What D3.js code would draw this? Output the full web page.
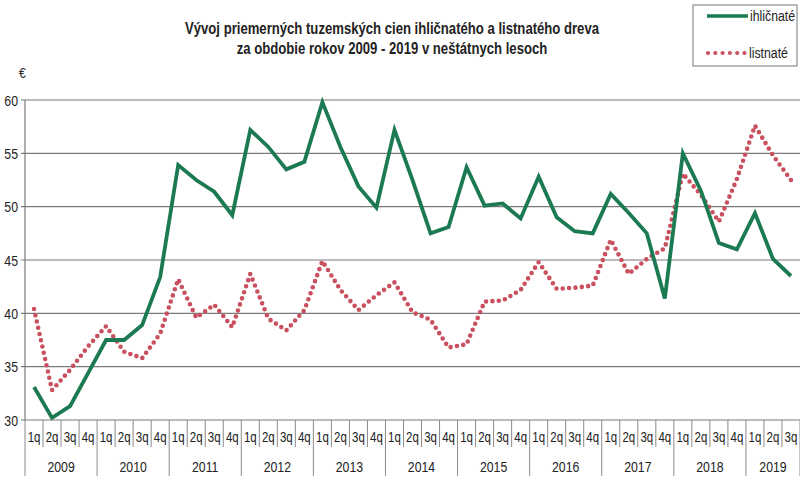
<!DOCTYPE html>
<html>
<head>
<meta charset="utf-8">
<script src="https://cdn.jsdelivr.net/npm/d3@7"></script>
<style>
  body { margin: 0; background: #fff; }
  text { font-family: "Liberation Sans", Arial, sans-serif; fill: #222; }
</style>
</head>
<body>
<svg id="chart" width="800" height="488"></svg>
<script>
const years = ['2009', '2010', '2011', '2012', '2013', '2014', '2015', '2016', '2017', '2018', '2019'];
const quarterLabels = ['1q', '2q', '3q', '4q'];
const yTicks = [30, 35, 40, 45, 50, 55, 60];

// ihličnaté (ihlicnate), 2009 1q .. 2019 3q
const ihlicnate = [33.1, 30.2, 31.3, 34.4, 37.5, 37.5, 38.9, 43.4,
  53.9, 52.5, 51.4, 49.2, 57.2, 55.6, 53.5, 54.2,
  59.8, 55.6, 51.9, 49.9, 57.2, 52.5, 47.5, 48.1,
  53.7, 50.1, 50.3, 48.9, 52.8, 49.0, 47.7, 47.5,
  51.2, 49.4, 47.5, 41.4, 55.0, 51.5, 46.6, 46.0,
  49.4, 45.1, 43.5];
// listnaté
const listnate = [40.4, 32.8, 34.7, 36.9, 38.8, 36.4, 35.8, 38.1,
  43.2, 39.6, 40.8, 38.7, 43.7, 39.5, 38.4, 40.3,
  44.9, 42.2, 40.3, 41.7, 42.9, 40.1, 39.4, 36.8,
  37.1, 41.1, 41.2, 42.2, 44.8, 42.3, 42.4, 42.6,
  46.9, 43.7, 45.1, 46.1, 53.1, 51.1, 48.6, 52.6,
  57.6, 54.8, 52.5];

const quarters = ihlicnate.map((d, i) => years[Math.floor(i / 4)] + '-' + quarterLabels[i % 4]);

const svg = d3.select('#chart');
const mLeft = 25, mRight = 800, mTop = 100, mBottom = 420;
const narrow = 0.82; // the original uses a condensed font

const x = d3.scaleBand().domain(quarters).range([mLeft, mRight]);
const y = d3.scaleLinear().domain([30, 60]).range([mBottom, mTop]);

// place a horizontally condensed text
function label(sel, px, py, size) {
  return sel.attr('transform', (d, i) => `translate(${typeof px === 'function' ? px(d, i) : px},${typeof py === 'function' ? py(d, i) : py}) scale(${narrow},1)`)
    .style('font-size', size + 'px');
}

// title
label(svg.append('text').attr('text-anchor', 'middle').style('font-weight', 'bold'), 392, 34, 16)
  .text('Vývoj priemerných tuzemských cien ihličnatého a listnatého dreva');
label(svg.append('text').attr('text-anchor', 'middle').style('font-weight', 'bold'), 392, 54, 16)
  .text('za obdobie rokov 2009 - 2019 v neštátnych lesoch');

// grid
svg.append('g').selectAll('line').data(yTicks).join('line')
  .attr('x1', mLeft - 4).attr('x2', mRight)
  .attr('y1', d => y(d)).attr('y2', d => y(d))
  .attr('stroke', '#7a7a7a').attr('stroke-width', 1.2);

svg.append('line').attr('x1', mLeft).attr('x2', mLeft).attr('y1', mTop).attr('y2', mBottom)
  .attr('stroke', '#7a7a7a').attr('stroke-width', 1.2);

label(svg.append('g').selectAll('text').data(yTicks).join('text').attr('text-anchor', 'end'),
  18, d => y(d) + 5.5, 15).text(d => d);

label(svg.append('text'), 19, 78, 15).text('€');

// x axis: quarter ticks and year separators
const qTicks = quarters.map(q => x(q)).concat([mRight]);
svg.append('g').selectAll('line').data(qTicks).join('line')
  .attr('x1', d => d).attr('x2', d => d)
  .attr('y1', mBottom).attr('y2', (d, i) => i % 4 === 0 || i === quarters.length ? 476 : 447)
  .attr('stroke', '#8a8a8a').attr('stroke-width', 1);

label(svg.append('g').selectAll('text').data(quarters).join('text').attr('text-anchor', 'middle'),
  d => x(d) + x.bandwidth() / 2, 442, 14).text(d => d.split('-')[1]);

label(svg.append('g').selectAll('text').data(years).join('text').attr('text-anchor', 'middle'),
  d => {
    const qs = quarters.filter(q => q.startsWith(d));
    return (x(qs[0]) + x(qs[qs.length - 1]) + x.bandwidth()) / 2;
  }, 472, 15).text(d => d);

// series
const line = d3.line().x((d, i) => x(quarters[i]) + x.bandwidth() / 2).y(d => y(d));

svg.append('path').datum(listnate).attr('d', line)
  .attr('fill', 'none').attr('stroke', '#c9505f').attr('stroke-width', 4.6)
  .attr('stroke-linecap', 'round').attr('stroke-dasharray', '0 6.4');

svg.append('path').datum(ihlicnate).attr('d', line)
  .attr('fill', 'none').attr('stroke', '#1c7a52').attr('stroke-width', 3.8)
  .attr('stroke-linejoin', 'miter');

// legend
const lg = svg.append('g');
lg.append('rect').attr('x', 693).attr('y', 5).attr('width', 104).attr('height', 61)
  .attr('fill', '#fff').attr('stroke', '#777').attr('stroke-width', 1);
lg.append('line').attr('x1', 707).attr('x2', 748).attr('y1', 16).attr('y2', 16)
  .attr('stroke', '#1c7a52').attr('stroke-width', 3.6);
lg.append('line').attr('x1', 708).attr('x2', 748).attr('y1', 53).attr('y2', 53)
  .attr('stroke', '#c9505f').attr('stroke-width', 4.2)
  .attr('stroke-linecap', 'round').attr('stroke-dasharray', '0 7.3');
label(lg.append('text'), 750, 21, 15).text('ihličnaté');
label(lg.append('text'), 749, 58, 15).text('listnaté');
</script>
</body>
</html>
